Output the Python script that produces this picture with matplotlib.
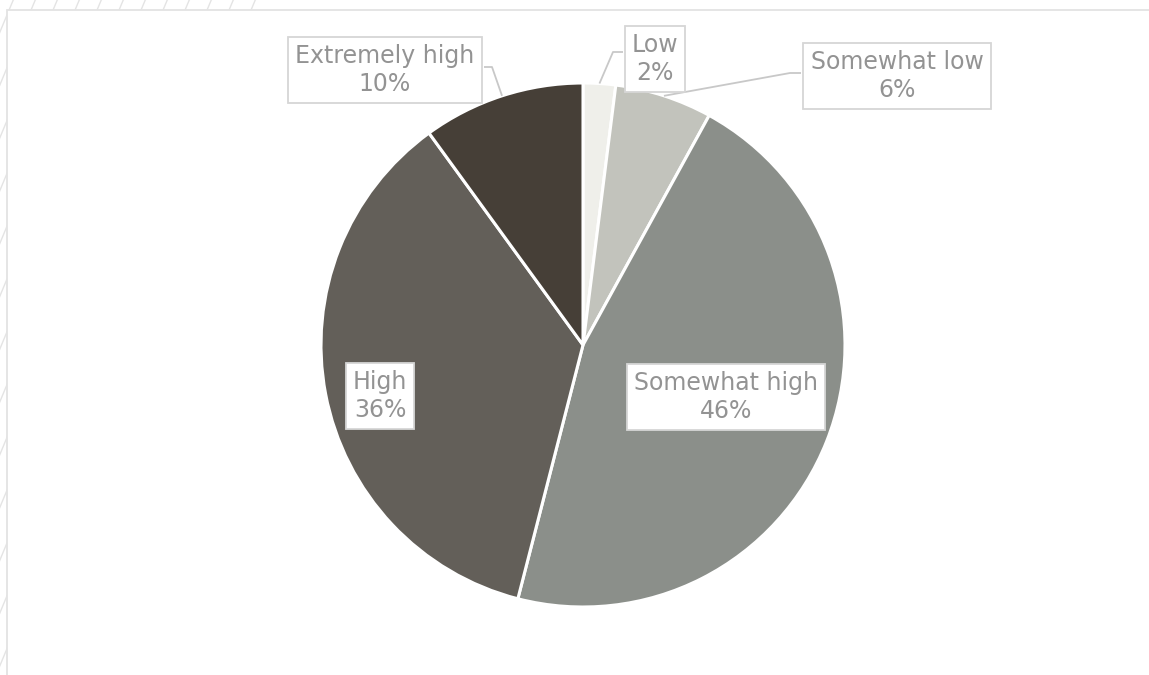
import numpy as np
import matplotlib
matplotlib.use("Agg")
import matplotlib.pyplot as plt
from matplotlib.patches import Rectangle

# ── data ────────────────────────────────────────────────
categories = ["Low", "Somewhat low", "Somewhat high", "High", "Extremely high"]
shares = [2, 6, 46, 36, 10]
colors = ["#EFEFEA", "#C2C3BC", "#8B8F8A", "#635F59", "#463F37"]

W, H = 1149, 675
CX, CY, R = 583, 330, 262

# label box centres (pixels, y up) and optional leader elbow / end
label_pos = {
    "Low": (655, 616),
    "Somewhat low": (897, 599),
    "Somewhat high": (726, 278),
    "High": (380, 279),
    "Extremely high": (385, 605),
}
leaders = {
    "Low": [(613, 623), (623, 623)],
    "Somewhat low": [(790, 602), (801, 602)],
    "Extremely high": [(492, 608), (484, 608)],
}

fig = plt.figure(figsize=(W / 100, H / 100), dpi=100)
ax = fig.add_axes([0, 0, 1, 1])

# faint diagonal hatch behind the chart panel
hatch_col = "#E4E4E4"
slope = 2.4
for x0 in np.arange(-400, W + 22, 22):
    ax.plot([x0, x0 + H / slope], [0, H], color=hatch_col, lw=1.0, zorder=0)
ax.add_patch(Rectangle((270, 0), W, H, facecolor="white", edgecolor="none", zorder=0.5))
ax.add_patch(Rectangle((7, -5), W, H - 10 + 5, facecolor="white",
                       edgecolor="#E3E3E3", lw=1.3, zorder=1))

wedges, _ = ax.pie(shares, colors=colors, startangle=90, counterclock=False,
                   center=(CX, CY), radius=R,
                   wedgeprops=dict(edgecolor="white", linewidth=2.2, zorder=2))

# labels and leader lines
cum = np.cumsum([0] + shares)
total = sum(shares)
for i, (cat, val) in enumerate(zip(categories, shares)):
    mid = (cum[i] + cum[i + 1]) / 2 / total * 2 * np.pi
    ex, ey = CX + R * np.sin(mid), CY + R * np.cos(mid)
    if cat in leaders:
        pts = [(ex, ey)] + leaders[cat]
        ax.plot([p[0] for p in pts], [p[1] for p in pts], color="#C8C8C8",
                lw=1.3, zorder=3, solid_capstyle="butt")
    tx, ty = label_pos[cat]
    ax.text(tx, ty, f"{cat}\n{val}%", ha="center", va="center",
            fontsize=17, color="#939393", linespacing=1.2, zorder=4,
            bbox=dict(boxstyle="square,pad=0.3", facecolor="white",
                      edgecolor="#D6D6D6", lw=1.3))

ax.set_xlim(0, W)
ax.set_ylim(0, H)
ax.set_aspect("auto")
ax.axis("off")

fig.savefig("out.png", dpi=100, facecolor="white")
